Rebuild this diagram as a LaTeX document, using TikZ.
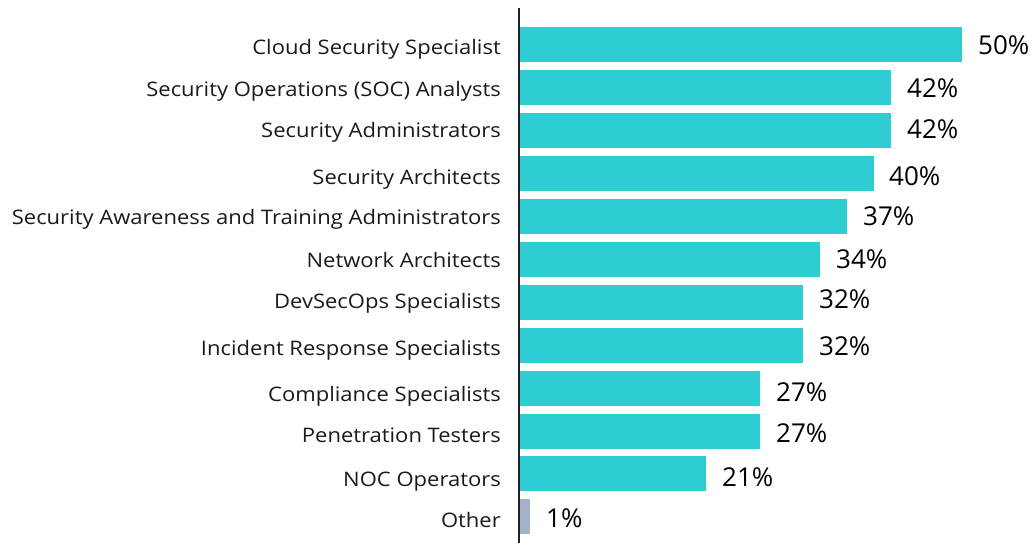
\documentclass[tikz,border=0pt]{standalone}
\usepackage{fontspec}
\setmainfont{Open Sans}
\newfontfamily\labfont[FakeStretch=1.1]{Open Sans}
\definecolor{barc}{HTML}{2DCDD3}
\definecolor{otherc}{HTML}{A3B1C8}
\definecolor{axisc}{HTML}{222222}
\definecolor{txtc}{HTML}{1A1A1A}
\begin{document}
\begin{tikzpicture}[x=1pt,y=-1pt,
  lab/.style={anchor=base east,inner sep=0pt,font=\labfont\fontsize{20}{24}\selectfont,text=txtc},
  pct/.style={anchor=base west,inner sep=0pt,font=\fontsize{26}{30}\selectfont,text=black},
  bar/.style={fill=barc,draw=none},
  obar/.style={fill=otherc,draw=none}]
\useasboundingbox (0,0) rectangle (1036,543);
% bars: top y, end x
\foreach \t/\e/\n in {27/962/b1,70/891/b2,113/891/b3,156/874/b4,199/847/b5,242/820/b6,285/803/b7,328/803/b8,371/760/b9,414/760/b10,456/706/b11}{
  \path[bar] (520,\t) rectangle (\e,\t+35);
}
\path[obar] (520,499) rectangle (530,534);
\draw[axisc,line width=2pt] (519,8) coordinate (axtop) -- (519,543) coordinate (axbot);
% category labels
\node[lab] (l1) at (501,55) {Cloud Security Specialist};
\node[lab] (l2) at (501,96) {Security Operations (SOC) Analysts};
\node[lab] (l3) at (501,137) {Security Administrators};
\node[lab] (l4) at (501,184) {Security Architects};
\node[lab] (l5) at (501,224) {Security Awareness and Training Administrators};
\node[lab] (l6) at (501,267) {Network Architects};
\node[lab] (l7) at (501,308) {DevSecOps Specialists};
\node[lab] (l8) at (501,355) {Incident Response Specialists};
\node[lab] (l9) at (501,401) {Compliance Specialists};
\node[lab] (l10) at (501,442) {Penetration Testers};
\node[lab] (l11) at (501,486) {NOC Operators};
\node[lab] (l12) at (501,527) {Other};
% percentages
\node[pct] (p1) at (978,54.5) {50\%};
\node[pct] (p2) at (907,97.5) {42\%};
\node[pct] (p3) at (907,138.5) {42\%};
\node[pct] (p4) at (889,185.5) {40\%};
\node[pct] (p5) at (863,225.5) {37\%};
\node[pct] (p6) at (836,268.5) {34\%};
\node[pct] (p7) at (819,308.5) {32\%};
\node[pct] (p8) at (819,355.5) {32\%};
\node[pct] (p9) at (776,401.5) {27\%};
\node[pct] (p10) at (776,442.5) {27\%};
\node[pct] (p11) at (722,486.5) {21\%};
\node[pct] (p12) at (546,527.5) {1\%};
\end{tikzpicture}
\end{document}
